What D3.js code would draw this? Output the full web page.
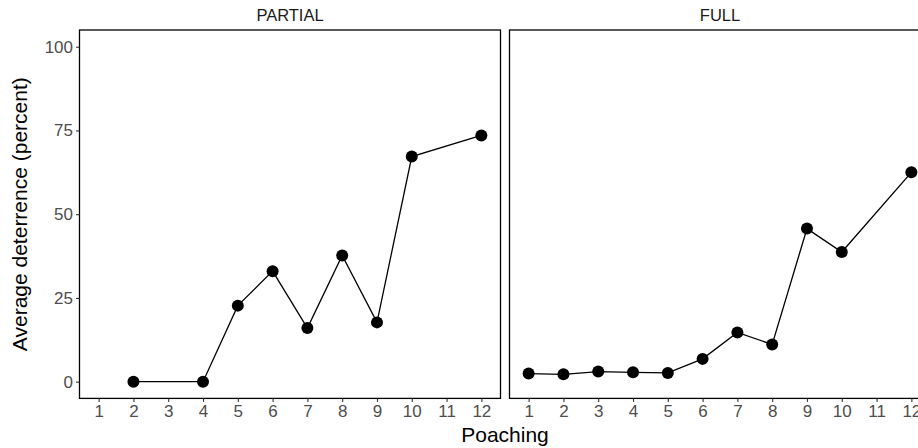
<!DOCTYPE html>
<html>
<head>
<meta charset="utf-8">
<script src="https://cdn.jsdelivr.net/npm/d3@7"></script>
<style>
    body { margin: 0; background: #fff; }
    svg { display: block; font-family: 'Liberation Sans', Arial, sans-serif; }
</style>
</head>
<body>
<svg id="chart"></svg>
<script>
// facet names and their series
const panels = ['PARTIAL', 'FULL'];
const partialX = [2, 4, 5, 6, 7, 8, 9, 10, 12];
const partialY = [0, 0, 22.7, 33.0, 16.0, 37.7, 17.7, 67.2, 73.5];
const fullX = [1, 2, 3, 4, 5, 6, 7, 8, 9, 10, 12];
const fullY = [2.4, 2.2, 3.0, 2.8, 2.6, 6.8, 14.7, 11.1, 45.7, 38.7, 62.5];
const xTicks = [1, 2, 3, 4, 5, 6, 7, 8, 9, 10, 11, 12];
const yTicks = [0, 25, 50, 75, 100];

const width = 918;
const height = 448;
const panelW = 421;
const panelLeft = [79.5, 509.5];
const panelTop = 30;
const panelBottom = 398.4;

const svg = d3.select('#chart').attr('width', width).attr('height', height);

const series = [
    partialX.map((x, i) => ({ x: x, y: partialY[i] })),
    fullX.map((x, i) => ({ x: x, y: fullY[i] })),
];

const yScale = d3.scaleLinear().domain([-5, 105]).range([panelBottom, panelTop]);

panels.forEach((name, p) => {
    const x0 = panelLeft[p];
    const xScale = d3.scaleLinear()
        .domain([1 - 0.55, 12 + 0.55])
        .range([x0, x0 + panelW]);

    const g = svg.append('g');

    // strip label
    g.append('text')
        .attr('x', x0 + panelW / 2)
        .attr('y', 20.5)
        .attr('text-anchor', 'middle')
        .attr('font-size', 16.5)
        .attr('fill', '#1a1a1a')
        .text(name);

    // line + points
    const line = d3.line().x(d => xScale(d.x)).y(d => yScale(d.y));
    g.append('path')
        .datum(series[p])
        .attr('d', line)
        .attr('fill', 'none')
        .attr('stroke', '#000')
        .attr('stroke-width', 1.3);

    g.selectAll('circle')
        .data(series[p])
        .join('circle')
        .attr('cx', d => xScale(d.x))
        .attr('cy', d => yScale(d.y))
        .attr('r', 6)
        .attr('fill', '#000');

    // panel border
    g.append('rect')
        .attr('x', x0)
        .attr('y', panelTop)
        .attr('width', panelW)
        .attr('height', panelBottom - panelTop)
        .attr('fill', 'none')
        .attr('stroke', '#000')
        .attr('stroke-width', 1.3);

    // x axis
    const xAxis = g.append('g')
        .attr('transform', `translate(0, ${panelBottom})`)
        .call(d3.axisBottom(xScale).tickValues(xTicks).tickSize(3.5).tickPadding(3).tickFormat(d3.format('d')));
    xAxis.select('.domain').remove();
    xAxis.selectAll('line').attr('stroke', '#333').attr('stroke-width', 1.1);
    xAxis.selectAll('text').attr('font-size', 17).attr('fill', '#4d4d4d').attr('font-family', null);

    // y axis only on first panel
    if (p === 0) {
        const yAxis = g.append('g')
            .attr('transform', `translate(${x0}, 0)`)
            .call(d3.axisLeft(yScale).tickValues(yTicks).tickSize(3.5).tickPadding(3));
        yAxis.select('.domain').remove();
        yAxis.selectAll('line').attr('stroke', '#333').attr('stroke-width', 1.1);
        yAxis.selectAll('text').attr('font-size', 17).attr('fill', '#4d4d4d').attr('font-family', null);
    }
});

// axis titles
svg.append('text')
    .attr('x', (panelLeft[0] + panelLeft[1] + panelW) / 2)
    .attr('y', 442)
    .attr('text-anchor', 'middle')
    .attr('font-size', 21)
    .attr('fill', '#000')
    .text('Poaching');

svg.append('text')
    .attr('transform', `translate(27, ${(panelTop + panelBottom) / 2}) rotate(-90)`)
    .attr('text-anchor', 'middle')
    .attr('font-size', 21)
    .attr('fill', '#000')
    .text('Average deterrence (percent)');
</script>
</body>
</html>
